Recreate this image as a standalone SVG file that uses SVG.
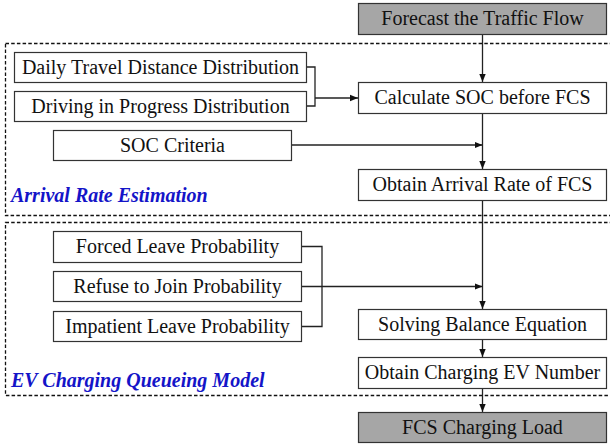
<svg xmlns="http://www.w3.org/2000/svg" width="610" height="445" viewBox="0 0 610 445">
<defs>
<style>
.box{fill:#fff;stroke:#333;stroke-width:1.2}
.gray{fill:#a6a6a6;stroke:#333;stroke-width:1.2}
.t{font-family:"Liberation Serif","Times New Roman",serif;font-size:20px;fill:#111;text-anchor:middle}
.lbl{font-family:"Liberation Serif","Times New Roman",serif;font-size:20px;font-weight:bold;font-style:italic;fill:#1414c8}
.dash{fill:none;stroke:#111;stroke-width:1.3;stroke-dasharray:3.5,2.2}
.ln{fill:none;stroke:#222;stroke-width:1.3}
</style>
<marker id="ah" viewBox="0 0 10 10" refX="10" refY="5" markerWidth="8" markerHeight="8" markerUnits="userSpaceOnUse" orient="auto">
<path d="M0,1 L10,5 L0,9 Z" fill="#111"/>
</marker>
</defs>
<g id="group-arrival">
<rect class="dash" x="5.5" y="43.5" width="608" height="172"/>
<text class="lbl" x="11" y="202">Arrival Rate Estimation</text>
</g>
<g id="group-queue">
<rect class="dash" x="5.5" y="222.5" width="608" height="173"/>
<text class="lbl" x="11" y="387">EV Charging Queueing Model</text>
</g>
<g id="connectors">
<path class="ln" d="M482.5,34 V82" marker-end="url(#ah)"/>
<path class="ln" d="M307,67 H315 V106 H307"/>
<path class="ln" d="M315,98 H358" marker-end="url(#ah)"/>
<path class="ln" d="M292,145 H482.5" marker-end="url(#ah)"/>
<path class="ln" d="M482.5,113 V169" marker-end="url(#ah)"/>
<path class="ln" d="M482.5,200 V309" marker-end="url(#ah)"/>
<path class="ln" d="M302,246.5 H322 V326.5 H302"/>
<path class="ln" d="M302,286.5 H482.5" marker-end="url(#ah)"/>
<path class="ln" d="M482.5,339 V357" marker-end="url(#ah)"/>
<path class="ln" d="M482.5,388 V412" marker-end="url(#ah)"/>
</g>
<g id="forecast"><rect class="gray" x="358.5" y="3.5" width="248" height="31"/><text class="t" x="482.5" y="25">Forecast the Traffic Flow</text></g>
<g id="daily"><rect class="box" x="14.5" y="52.5" width="292" height="30"/><text class="t" x="160.5" y="73.5">Daily Travel Distance Distribution</text></g>
<g id="driving"><rect class="box" x="14.5" y="91.5" width="292" height="30"/><text class="t" x="160.5" y="112.5">Driving in Progress Distribution</text></g>
<g id="calc"><rect class="box" x="358.5" y="82.5" width="248" height="31"/><text class="t" x="482.5" y="104">Calculate SOC before FCS</text></g>
<g id="soc"><rect class="box" x="53.5" y="130.5" width="238" height="30"/><text class="t" x="172.5" y="151.5">SOC Criteria</text></g>
<g id="arrival"><rect class="box" x="358.5" y="169.5" width="248" height="31"/><text class="t" x="482.5" y="191">Obtain Arrival Rate of FCS</text></g>
<g id="forced"><rect class="box" x="53.5" y="231.5" width="248" height="31"/><text class="t" x="177.5" y="253">Forced Leave Probability</text></g>
<g id="refuse"><rect class="box" x="53.5" y="271.5" width="248" height="30"/><text class="t" x="177.5" y="293">Refuse to Join Probability</text></g>
<g id="impatient"><rect class="box" x="53.5" y="311.5" width="248" height="30"/><text class="t" x="177.5" y="333">Impatient Leave Probability</text></g>
<g id="balance"><rect class="box" x="358.5" y="309.5" width="248" height="30"/><text class="t" x="482.5" y="331">Solving Balance Equation</text></g>
<g id="number"><rect class="box" x="358.5" y="357.5" width="248" height="31"/><text class="t" x="482.5" y="379">Obtain Charging EV Number</text></g>
<g id="load"><rect class="gray" x="358.5" y="412.5" width="248" height="30"/><text class="t" x="482.5" y="434">FCS Charging Load</text></g>
</svg>
